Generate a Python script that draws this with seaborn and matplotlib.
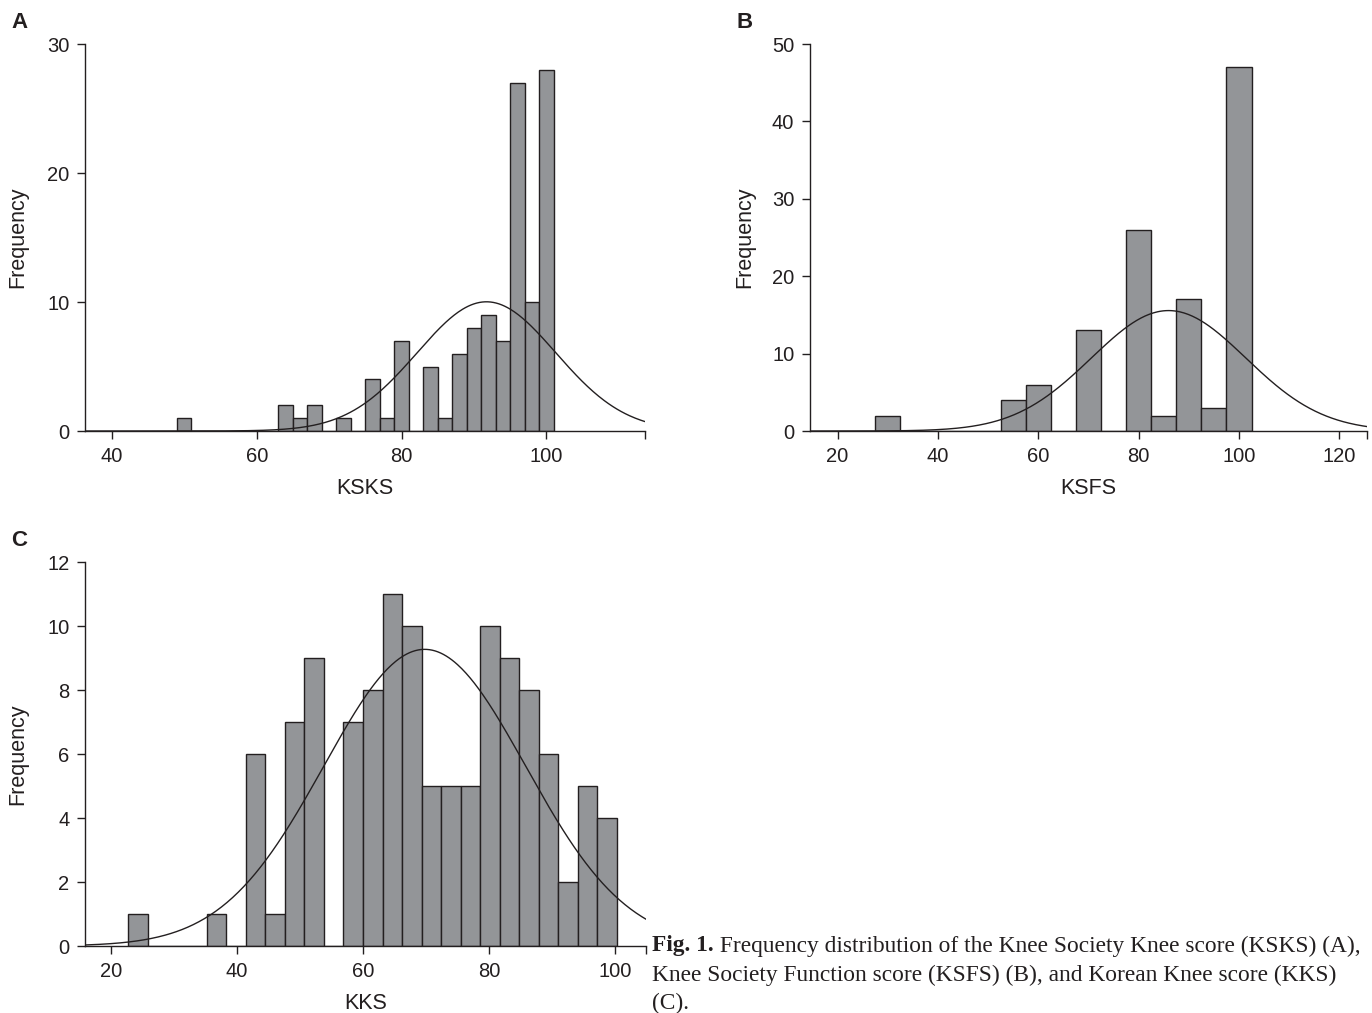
import numpy as np
import pandas as pd
import matplotlib
matplotlib.use("Agg")
import matplotlib.pyplot as plt
import seaborn as sns

# ---------------- data ----------------
ksks_score = [50, 64, 66, 68, 72, 76, 78, 80, 84, 86, 88, 90, 92, 94, 96, 98, 100]
ksks_freq = [1, 2, 1, 2, 1, 4, 1, 7, 5, 1, 6, 8, 9, 7, 27, 10, 28]

ksfs_score = [30, 55, 60, 70, 80, 85, 90, 95, 100]
ksfs_freq = [2, 4, 6, 13, 26, 2, 17, 3, 47]

kks_score = [25, 37, 43, 46, 49, 52, 58, 61, 64, 67, 71, 74, 77, 80, 83, 86, 89, 92, 95, 98]
kks_freq = [1, 1, 6, 1, 7, 9, 7, 8, 11, 10, 5, 5, 5, 10, 9, 8, 6, 2, 5, 4]

panel_letters = ["A", "B", "C"]
x_labels = ["KSKS", "KSFS", "KKS"]
y_label = "Frequency"
caption_bold = "Fig. 1."
caption_lines = [
    " Frequency distribution of the Knee Society Knee score (KSKS) (A),",
    "Knee Society Function score (KSFS) (B), and Korean Knee score (KKS)",
    "(C).",
]

# ---------------- style ----------------
sns.set_style("ticks")
plt.rcParams["font.family"] = ["Liberation Sans", "DejaVu Sans"]
INK = "#231f20"
BAR = "#939598"
plt.rcParams.update({
    "axes.edgecolor": INK, "axes.linewidth": 1.0,
    "xtick.color": INK, "ytick.color": INK,
    "xtick.labelcolor": INK, "ytick.labelcolor": INK,
    "text.color": INK, "axes.labelcolor": INK,
})

W, H = 1372, 1013
fig = plt.figure(figsize=(W / 100, H / 100), dpi=100)


def box(l, r, t, b):
    return [l / W, 1 - b / H, (r - l) / W, (b - t) / H]


panels = [
    dict(score=ksks_score, freq=ksks_freq, px=(85, 645, 44, 431),
         binwidth=2, binrange=(49, 101), xlim=(36.3, 113.6), ylim=30,
         xticks=[40, 60, 80, 100], yticks=[0, 10, 20, 30],
         ylab_x=18, xlab_y=488),
    dict(score=ksfs_score, freq=ksfs_freq, px=(810, 1367, 44, 431),
         binwidth=5, binrange=(27.5, 102.5), xlim=(14.5, 125.5), ylim=50,
         xticks=[20, 40, 60, 80, 100, 120], yticks=[0, 10, 20, 30, 40, 50],
         ylab_x=745, xlab_y=488),
    dict(score=kks_score, freq=kks_freq, px=(85, 646, 562, 946),
         binwidth=3.1, binrange=(22.8, 100.3), xlim=(15.9, 104.9), ylim=12,
         xticks=[20, 40, 60, 80, 100], yticks=[0, 2, 4, 6, 8, 10, 12],
         ylab_x=18, xlab_y=1003),
]

for i, p in enumerate(panels):
    l, r, t, b = p["px"]
    ax = fig.add_axes(box(l, r, t, b))
    df = pd.DataFrame({"score": p["score"], "freq": p["freq"]})
    sns.histplot(data=df, x="score", weights="freq", binwidth=p["binwidth"],
                 binrange=p["binrange"], color=BAR, edgecolor=INK,
                 linewidth=1.0, alpha=1.0, ax=ax)
    # fitted normal curve (from the data's mean / sd)
    vals = np.repeat(np.array(p["score"], float), p["freq"])
    mu, sd, n = vals.mean(), vals.std(ddof=1), len(vals)
    xs = np.linspace(p["xlim"][0], p["xlim"][1], 400)
    ys = n * p["binwidth"] * np.exp(-0.5 * ((xs - mu) / sd) ** 2) / (sd * np.sqrt(2 * np.pi))
    sns.lineplot(x=xs, y=ys, color=INK, linewidth=1.0, ax=ax)

    ax.set_xlim(*p["xlim"])
    ax.set_ylim(0, p["ylim"])
    ax.set_xticks(p["xticks"] + [p["xlim"][1]])
    ax.set_xticklabels([str(v) for v in p["xticks"]] + [""])
    ax.set_yticks(p["yticks"])
    ax.set_yticklabels([str(v) for v in p["yticks"]])
    ax.tick_params(axis="both", direction="out", length=5.8, width=1.0,
                   labelsize=14.5, pad=5.5)
    for s in ["top", "right"]:
        ax.spines[s].set_visible(False)
    ax.set_xlabel(x_labels[i], fontsize=15.5)
    ax.set_ylabel(y_label, fontsize=15.5)
    ax.xaxis.set_label_coords(0.5, (b - p["xlab_y"]) / (b - t))
    ax.xaxis.label.set_va("center")
    ax.yaxis.set_label_coords((p["ylab_x"] - l) / (r - l), 0.5)
    ax.yaxis.label.set_va("center")
    ax.patch.set_alpha(0)

# panel letters
fig.text(19.5 / W, 1 - 23 / H, panel_letters[0], fontsize=16, fontweight="bold",
         va="center", ha="center")
fig.text(745 / W, 1 - 23 / H, panel_letters[1], fontsize=16, fontweight="bold",
         va="center", ha="center")
fig.text(19.5 / W, 1 - 540 / H, panel_letters[2], fontsize=16, fontweight="bold",
         va="center", ha="center")

# caption
serif = ["Liberation Serif", "DejaVu Serif"]
cx = 652 / W
fs = 16.8
tb = fig.text(cx, 1 - 946 / H, caption_bold, family=serif, fontsize=fs,
              fontweight="bold", va="center")
fig.canvas.draw()
ext = tb.get_window_extent(renderer=fig.canvas.get_renderer())
fig.text(ext.x1 / W, 1 - 946 / H, caption_lines[0], family=serif, fontsize=fs, va="center")
fig.text(cx, 1 - 975 / H, caption_lines[1], family=serif, fontsize=fs, va="center")
fig.text(cx, 1 - 1003 / H, caption_lines[2], family=serif, fontsize=fs, va="center")

fig.savefig("out.png", dpi=100)
